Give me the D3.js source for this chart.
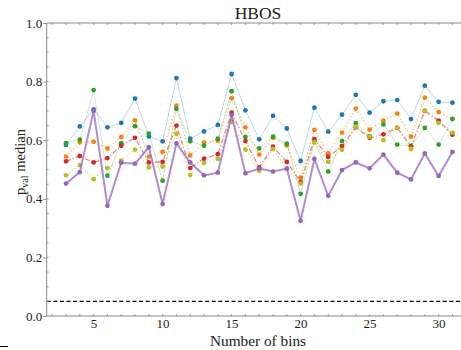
<!DOCTYPE html>
<html><head><meta charset="utf-8">
<script src="https://cdn.jsdelivr.net/npm/d3@7"></script>
<style>body{margin:0;background:#fff}svg{display:block}svg text{font-family:"Liberation Serif",serif !important;fill:#222}</style>
</head><body><svg id="c" width="461" height="350"></svg>
<script>
const bins = [3,4,5,6,7,8,9,10,11,12,13,14,15,16,17,18,19,20,21,22,23,24,25,26,27,28,29,30,31];
const blue   = [0.584,0.647,0.705,0.644,0.659,0.742,0.613,0.596,0.812,0.605,0.630,0.652,0.826,0.702,0.603,0.683,0.640,0.529,0.711,0.629,0.687,0.755,0.694,0.733,0.737,0.672,0.786,0.731,0.728];
const orange = [0.544,0.593,0.595,0.572,0.611,0.668,0.544,0.560,0.718,0.548,0.592,0.598,0.743,0.644,0.551,0.608,0.582,0.472,0.635,0.555,0.626,0.708,0.636,0.667,0.691,0.612,0.745,0.696,0.673];
const green  = [0.590,0.602,0.771,0.479,0.590,0.648,0.622,0.462,0.707,0.596,0.581,0.605,0.767,0.611,0.572,0.612,0.588,0.417,0.596,0.493,0.597,0.658,0.614,0.654,0.585,0.581,0.642,0.585,0.672];
const red    = [0.528,0.546,0.524,0.539,0.581,0.608,0.524,0.526,0.650,0.505,0.537,0.552,0.694,0.597,0.507,0.578,0.526,0.458,0.604,0.543,0.580,0.644,0.608,0.620,0.642,0.579,0.700,0.667,0.619];
const olive  = [0.480,0.515,0.467,0.505,0.530,0.568,0.507,0.510,0.622,0.481,0.522,0.536,0.663,0.568,0.495,0.570,0.502,0.452,0.593,0.526,0.567,0.646,0.612,0.600,0.643,0.570,0.701,0.659,0.626];
const purple = [0.452,0.491,0.700,0.376,0.523,0.520,0.576,0.382,0.589,0.524,0.480,0.489,0.686,0.487,0.503,0.493,0.503,0.325,0.536,0.410,0.498,0.524,0.504,0.551,0.489,0.466,0.555,0.478,0.560];
const threshold = 0.05;
const yTicks = [0.0,0.2,0.4,0.6,0.8,1.0];
const xTicks = [5,10,15,20,25,30];

const series = [
  {v: blue,   c:"#1f77b4", w:1,   dash:null,      op:0.3},
  {v: orange, c:"#ff7f0e", w:1.3, dash:"1.3,2.2", op:0.55},
  {v: green,  c:"#2ca02c", w:1,   dash:null,      op:0.25},
  {v: red,    c:"#d62728", w:1.3, dash:"5,2,1.3,2", op:0.55},
  {v: olive,  c:"#bcbd22", w:1.3, dash:"1.3,2.2", op:0.55},
  {v: purple, c:"#9467bd", w:2,   dash:null,      op:0.75}
];

const svg = d3.select("#c");
const L = 46.7, T = 23, B = 316;
const x = d3.scaleLinear().domain([1.6, 32.4]).range([L, L + 30.8*13.8]);
const y = d3.scaleLinear().domain([0, 1]).range([B, T]);
const axisCol = "#8a8a8a";
const serif = "'Liberation Serif', serif";

svg.append("line").attr("x1", L).attr("x2", 461).attr("y1", y(threshold)).attr("y2", y(threshold))
  .attr("stroke", "#000").attr("stroke-width", 1.1).attr("stroke-dasharray", "4,2.6");

const plot = svg.append("g");
series.forEach(s => {
  const pts = bins.map((b,i) => [b, s.v[i]]);
  const line = d3.line().x(d => x(d[0])).y(d => y(d[1]));
  plot.append("path").attr("d", line(pts)).attr("fill", "none").attr("stroke", s.c)
    .attr("stroke-width", s.w).attr("stroke-opacity", s.op)
    .attr("stroke-dasharray", s.dash);
  plot.selectAll(null).data(pts).enter().append("circle")
    .attr("cx", d => x(d[0])).attr("cy", d => y(d[1])).attr("r", 2.4).attr("fill", s.c);
});

svg.append("line").attr("x1", L).attr("x2", L).attr("y1", T).attr("y2", B).attr("stroke", axisCol);
svg.append("line").attr("x1", L).attr("x2", 461).attr("y1", B).attr("y2", B).attr("stroke", axisCol);
svg.append("line").attr("x1", L).attr("x2", 461).attr("y1", T).attr("y2", T).attr("stroke", axisCol);

const yAxis = d3.axisLeft(y).tickValues(yTicks).tickFormat(d3.format(".1f")).tickSize(3.5).tickPadding(1);
const gy = svg.append("g").attr("transform", `translate(${L},0)`).call(yAxis).attr("font-family", serif);
gy.select(".domain").remove();
gy.selectAll(".tick line").attr("stroke", axisCol);
gy.selectAll(".tick text").attr("font-size", 13).style("font-family", serif).attr("fill", "#333");

const xAxis = d3.axisBottom(x).tickValues(xTicks).tickSize(0).tickPadding(2.5);
const gx = svg.append("g").attr("transform", `translate(0,${B})`).call(xAxis).attr("font-family", serif);
gx.select(".domain").remove();
gx.selectAll(".tick text").attr("font-size", 13).style("font-family", serif).attr("fill", "#333");

const minor = d3.range(2, 33);
svg.append("g").selectAll("line").data(minor).enter().append("line")
  .attr("x1", d => x(d)).attr("x2", d => x(d)).attr("y1", B).attr("y2", B - 2).attr("stroke", axisCol).attr("stroke-width", 0.8);
svg.append("g").selectAll("line").data(minor).enter().append("line")
  .attr("x1", d => x(d)).attr("x2", d => x(d)).attr("y1", T).attr("y2", T + 2).attr("stroke", axisCol).attr("stroke-width", 0.8);
svg.append("g").selectAll("line").data(d3.range(0.05, 1, 0.05)).enter().append("line")
  .attr("x1", L).attr("x2", L + 2).attr("y1", d => y(d)).attr("y2", d => y(d)).attr("stroke", axisCol).attr("stroke-width", 0.8);

svg.append("text").attr("x", 258).attr("y", 19).attr("text-anchor", "middle").attr("font-size", 17.5).style("font-family", serif).text("HBOS");
svg.append("text").attr("x", 258).attr("y", 346).attr("text-anchor", "middle").attr("font-size", 15.3).style("font-family", serif).text("Number of bins");
const yl = svg.append("text").attr("transform", "translate(25,162) rotate(-90)").attr("text-anchor", "middle").attr("font-size", 14.5).style("font-family", serif);
yl.append("tspan").text("p");
yl.append("tspan").attr("font-size", 10).attr("dy", 3).text("val");
yl.append("tspan").attr("dy", -3).text(" median");

svg.append("line").attr("x1", 0).attr("x2", 8).attr("y1", 346.5).attr("y2", 346.5).attr("stroke", "#000").attr("stroke-width", 1);
</script></body></html>
